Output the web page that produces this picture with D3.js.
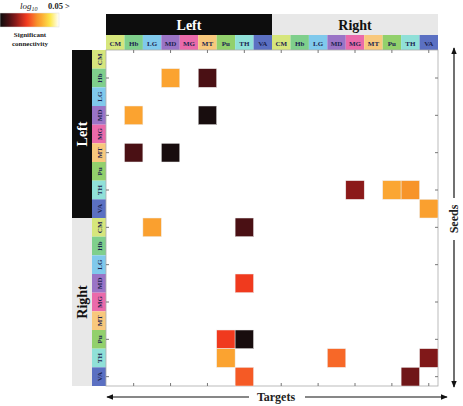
<!DOCTYPE html>
<html>
<head>
<meta charset="utf-8">
<script src="https://cdn.jsdelivr.net/npm/d3@7"></script>
<style>
  body { margin: 0; background: #fff; }
  svg { display: block; font-family: "Liberation Serif", "DejaVu Serif", serif; }
</style>
</head>
<body>
<svg id="chart" width="463" height="406"></svg>
<script>
// regions and hemispheres (same order for seeds and targets)
const regions = ["CM", "Hb", "LG", "MD", "MG", "MT", "Pu", "TH", "VA"];
const hemispheres = ["Left", "Right"];
const regionColors = ["#d6e67c", "#7fcf8c", "#80c9ec", "#9a74c6", "#ea6aaa", "#f8c87c", "#92d06c", "#90e0d8", "#5b70c2"];

// significant cells: seed index, target index, level (0 = strongest/black, 1 = 0.05 white)
const seedIdx   = [1, 1, 3, 3, 5, 5, 7, 7, 7, 8, 9, 9, 12, 15, 15, 16, 16, 16, 17, 17];
const targetIdx = [3, 5, 1, 5, 1, 3, 13, 15, 16, 17, 2, 7, 7, 6, 7, 6, 12, 17, 7, 16];
const levels    = [0.68, 0.15, 0.68, 0.03, 0.15, 0.03, 0.27, 0.69, 0.63, 0.67, 0.67, 0.15, 0.45, 0.45, 0.03, 0.68, 0.55, 0.25, 0.52, 0.22];

const labels = hemispheres.flatMap(h => regions.map(r => `${h}-${r}`));

const svg = d3.select("#chart");
const plot = { x0: 106, x1: 438, y0: 50, y1: 386 };

const x = d3.scaleBand().domain(d3.range(labels.length)).range([plot.x0, plot.x1]);
const y = d3.scaleBand().domain(d3.range(labels.length)).range([plot.y0, plot.y1]);

const stops = [0, 0.15, 0.27, 0.45, 0.55, 0.63, 0.7, 0.85, 1];
const color = d3.scaleLinear()
  .domain(stops)
  .range(["#0c0c0c", "#4a1014", "#8b1a1a", "#f03a1e", "#f76828", "#f7942a", "#fca933", "#fde74c", "#ffffff"]);

// ---------- colour bar ----------
const grad = svg.append("defs").append("linearGradient").attr("id", "cbar");
stops.forEach(s => grad.append("stop").attr("offset", s).attr("stop-color", color(s)));
svg.append("rect").attr("x", 0).attr("y", 13).attr("width", 59).attr("height", 14)
  .attr("fill", "url(#cbar)").attr("stroke", "#ddd").attr("stroke-width", 0.5);

const lg = svg.append("text").attr("x", 20).attr("y", 9).attr("font-size", 9).attr("font-style", "italic").attr("fill", "#222");
lg.append("tspan").text("log");
lg.append("tspan").attr("font-size", 6).attr("dy", 2).text("10");
svg.append("text").attr("x", 48).attr("y", 9).attr("font-size", 8.5).attr("font-weight", "bold").attr("fill", "#222").text("0.05 >");
svg.append("text").attr("x", 30).attr("y", 37).attr("font-size", 7).attr("font-weight", "bold")
  .attr("text-anchor", "middle").attr("fill", "#222").text("Significant");
svg.append("text").attr("x", 30).attr("y", 46).attr("font-size", 7).attr("font-weight", "bold")
  .attr("text-anchor", "middle").attr("fill", "#222").text("connectivity");

// ---------- hemisphere headers ----------
const hemiFill = ["#0d0d0d", "#e8e8e8"];
const hemiText = ["#fff", "#111"];
hemispheres.forEach((h, k) => {
  const a = k * regions.length, b = a + regions.length - 1;
  const hx = x(a), hw = x(b) + x.bandwidth() - x(a);
  svg.append("rect").attr("x", hx).attr("y", 14).attr("width", hw).attr("height", 21).attr("fill", hemiFill[k]);
  svg.append("text").attr("x", hx + hw / 2).attr("y", 30).attr("text-anchor", "middle")
    .attr("font-size", 14).attr("font-weight", "bold").attr("fill", hemiText[k]).text(h);

  const vy = y(a), vh = y(b) + y.bandwidth() - y(a);
  svg.append("rect").attr("x", 72).attr("y", vy).attr("width", 20).attr("height", vh).attr("fill", hemiFill[k]);
  svg.append("text").attr("transform", `translate(87,${vy + vh / 2}) rotate(-90)`).attr("text-anchor", "middle")
    .attr("font-size", 14).attr("font-weight", "bold").attr("fill", hemiText[k]).text(h);
});

// ---------- region label strips ----------
labels.forEach((l, i) => {
  const r = i % regions.length;
  svg.append("rect").attr("x", x(i)).attr("y", 35).attr("width", x.bandwidth()).attr("height", 15).attr("fill", regionColors[r]);
  svg.append("text").attr("x", x(i) + x.bandwidth() / 2).attr("y", 45.5).attr("text-anchor", "middle")
    .attr("font-size", 7).attr("font-weight", "bold").attr("fill", "#1c2450").text(regions[r]);

  svg.append("rect").attr("x", 92).attr("y", y(i)).attr("width", 15).attr("height", y.bandwidth()).attr("fill", regionColors[r]);
  svg.append("text").attr("transform", `translate(102,${y(i) + y.bandwidth() / 2}) rotate(-90)`).attr("text-anchor", "middle")
    .attr("font-size", 7).attr("font-weight", "bold").attr("fill", "#1c2450").text(regions[r]);
});

// ---------- plot frame & ticks ----------
svg.append("rect").attr("x", plot.x0).attr("y", plot.y0).attr("width", plot.x1 - plot.x0).attr("height", plot.y1 - plot.y0)
  .attr("fill", "#fff").attr("stroke", "#aaa").attr("stroke-width", 0.8);

const tickIdx = d3.range(1, labels.length, 2);
const tickStroke = "#777";
tickIdx.forEach(i => {
  const cx = x(i) + x.bandwidth() / 2, cy = y(i) + y.bandwidth() / 2;
  svg.append("line").attr("x1", cx).attr("x2", cx).attr("y1", plot.y0).attr("y2", plot.y0 + 3).attr("stroke", tickStroke);
  svg.append("line").attr("x1", cx).attr("x2", cx).attr("y1", plot.y1).attr("y2", plot.y1 - 3).attr("stroke", tickStroke);
  svg.append("line").attr("x1", plot.x0).attr("x2", plot.x0 + 3).attr("y1", cy).attr("y2", cy).attr("stroke", tickStroke);
  svg.append("line").attr("x1", plot.x1).attr("x2", plot.x1 - 3).attr("y1", cy).attr("y2", cy).attr("stroke", tickStroke);
});

// ---------- cells ----------
const cells = seedIdx.map((s, i) => ({ s, t: targetIdx[i], v: levels[i] }));
svg.append("g").selectAll("rect").data(cells).join("rect")
  .attr("x", d => x(d.t)).attr("y", d => y(d.s))
  .attr("width", x.bandwidth()).attr("height", y.bandwidth())
  .attr("fill", d => color(d.v))
  .attr("stroke", "#eee").attr("stroke-width", 0.5);

// ---------- arrows ----------
const defs = svg.select("defs");
defs.append("marker").attr("id", "ah").attr("viewBox", "0 0 10 10").attr("refX", 9).attr("refY", 5)
  .attr("markerWidth", 6).attr("markerHeight", 6).attr("orient", "auto-start-reverse")
  .append("path").attr("d", "M0,1 L10,5 L0,9 Z").attr("fill", "#111");

svg.append("line").attr("x1", 249).attr("x2", 107).attr("y1", 397).attr("y2", 397)
  .attr("stroke", "#111").attr("stroke-width", 1.2).attr("marker-end", "url(#ah)");
svg.append("line").attr("x1", 305).attr("x2", 447).attr("y1", 397).attr("y2", 397)
  .attr("stroke", "#111").attr("stroke-width", 1.2).attr("marker-end", "url(#ah)");
svg.append("text").attr("x", 276).attr("y", 401).attr("text-anchor", "middle")
  .attr("font-size", 12).attr("font-weight", "bold").attr("fill", "#222").text("Targets");

svg.append("line").attr("x1", 454).attr("x2", 454).attr("y1", 198).attr("y2", 48)
  .attr("stroke", "#111").attr("stroke-width", 1.2).attr("marker-end", "url(#ah)");
svg.append("line").attr("x1", 454).attr("x2", 454).attr("y1", 240).attr("y2", 387)
  .attr("stroke", "#111").attr("stroke-width", 1.2).attr("marker-end", "url(#ah)");
svg.append("text").attr("transform", "translate(458,219) rotate(-90)").attr("text-anchor", "middle")
  .attr("font-size", 12).attr("font-weight", "bold").attr("fill", "#222").text("Seeds");
</script>
</body>
</html>
